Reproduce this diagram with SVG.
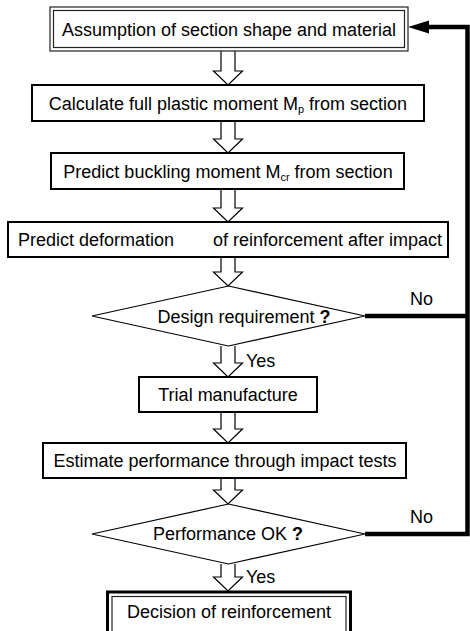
<svg xmlns="http://www.w3.org/2000/svg" width="470" height="631" viewBox="0 0 470 631">
  <style>
    text { font-family: "Liberation Sans", Arial, sans-serif; font-size: 18px; fill: #000; }
    .c { text-anchor: middle; }
    .box { fill: #fff; stroke: #000; stroke-width: 2; }
    .thin { fill: none; stroke: #222; stroke-width: 1.2; }
    .dia { fill: #fff; stroke: #000; stroke-width: 1.2; }
    .hollow { fill: #fff; stroke: #000; stroke-width: 1.2; stroke-linejoin: miter; }
    .loop { fill: none; stroke: #000; stroke-width: 4.5; }
    .sub { font-size: 11px; }
    .q { font-weight: bold; }
  </style>

  <!-- connectors: hollow flow arrows, and the thick "No" return loop -->
  <g id="connectors">
    <path class="hollow" d="M221,51 V71 H213.5 L228,85 L242.5,71 H235 V51"/>
    <path class="hollow" d="M221,121 V139 H213.5 L228,153 L242.5,139 H235 V121"/>
    <path class="hollow" d="M221,189 V208 H213.5 L228,222 L242.5,208 H235 V189"/>
    <path class="hollow" d="M221,257 V272 H213.5 L228,286 L242.5,272 H235 V257"/>
    <path class="hollow" d="M221,346 V363 H213.5 L228,377 L242.5,363 H235 V346"/>
    <path class="hollow" d="M221,412 V429 H213.5 L228,443 L242.5,429 H235 V412"/>
    <path class="hollow" d="M221,478 V490 H213.5 L228,504 L242.5,490 H235 V478"/>
    <path class="hollow" d="M221,564 V577 H213.5 L228,591 L242.5,577 H235 V564"/>

    <path class="loop" d="M365,316 H467.5"/>
    <path class="loop" d="M365,534 H467.5 V27 H425"/>
    <polygon points="408,27 429,20.5 429,33.5" fill="#000"/>

    <text x="421.5" y="305" class="c">No</text>
    <text x="421.5" y="523" class="c">No</text>
    <text x="246" y="367">Yes</text>
    <text x="246" y="583">Yes</text>
  </g>

  <g id="assumption">
    <rect x="50" y="7" width="358" height="44" class="thin" fill="#fff"/>
    <rect x="53.5" y="10.5" width="351" height="37" class="thin"/>
    <text x="229" y="35.5" class="c">Assumption of section shape and material</text>
  </g>

  <g id="plastic-moment">
    <rect x="32" y="85" width="392" height="36" class="box"/>
    <text x="228" y="109.5" class="c">Calculate full plastic moment M<tspan class="sub" dy="3">p</tspan><tspan dy="-3"> from section</tspan></text>
  </g>

  <g id="buckling-moment">
    <rect x="51" y="153" width="353" height="36" class="box"/>
    <text x="228" y="177.5" class="c">Predict buckling moment M<tspan class="sub" dy="3">cr</tspan><tspan dy="-3"> from section</tspan></text>
  </g>

  <g id="deformation">
    <rect x="8" y="222" width="440" height="35" class="box"/>
    <text x="18" y="246">Predict deformation</text>
    <text x="442" y="246" text-anchor="end">of reinforcement after impact</text>
  </g>

  <g id="design-check">
    <polygon points="228.5,286 365,316 228.5,346 92,316" class="dia"/>
    <text x="244" y="322.5" class="c">Design requirement <tspan class="q">?</tspan></text>
  </g>

  <g id="trial">
    <rect x="139" y="377" width="178" height="35" class="box"/>
    <text x="228" y="401" class="c">Trial manufacture</text>
  </g>

  <g id="impact-tests">
    <rect x="43" y="443" width="363" height="35" class="box"/>
    <text x="225" y="467" class="c">Estimate performance through impact tests</text>
  </g>

  <g id="performance-check">
    <polygon points="228.5,504 365,534 228.5,564 92,534" class="dia"/>
    <text x="228" y="540" class="c">Performance OK <tspan class="q">?</tspan></text>
  </g>

  <g id="decision">
    <rect x="107.5" y="592" width="243" height="50" fill="#fff" stroke="#000" stroke-width="3"/>
    <rect x="112" y="596.5" width="234" height="50" class="thin"/>
    <text x="229" y="618" class="c">Decision of reinforcement</text>
  </g>
</svg>
